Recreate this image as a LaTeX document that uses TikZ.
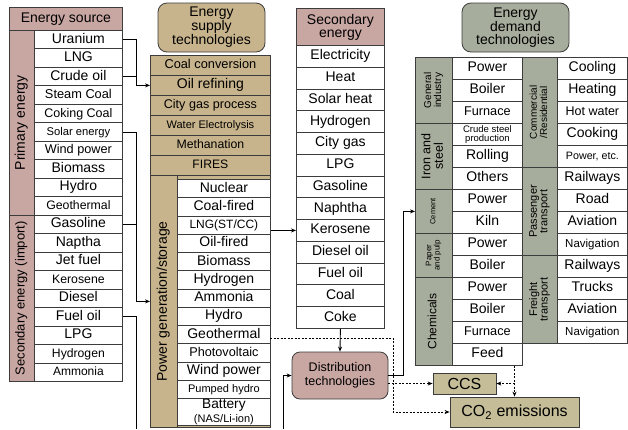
\documentclass[tikz,border=0pt]{standalone}
\usepackage{fontspec}
\setmainfont{Liberation Sans}
\usepackage{graphicx}
\usetikzlibrary{arrows.meta}

\definecolor{rosec}{HTML}{C8A6A2}
\definecolor{tanc}{HTML}{C8B48C}
\definecolor{sagec}{HTML}{A7AD9C}
\definecolor{olivec}{HTML}{C4BD97}
\definecolor{linec}{HTML}{3C3C3C}

\newcommand{\fsz}[1]{\fontsize{#1}{#1}\selectfont}
\newcommand{\vtext}[3]{\rotatebox{90}{\fontsize{#1}{#2}\selectfont\begin{tabular}{@{}c@{}}#3\end{tabular}}}

\tikzset{every picture/.style={line width=0.8pt}}
\tikzset{
  cellbase/.style={draw=linec, inner sep=0pt, anchor=north west, align=center},
  cell/.style={cellbase, font=\fsz{14}, text height=10pt, text depth=3pt},
  srcrow/.style={cell, fill=white, minimum width=88, minimum height=18.47},
  suprow/.style={cell, fill=tanc, minimum width=120, minimum height=20},
  pgrow/.style={cell, fill=white, minimum width=93, minimum height=18.25},
  secrow/.style={cell, fill=white, minimum width=88, minimum height=21.77},
  demrow/.style={cell, fill=white, minimum width=70, minimum height=22},
  demlab/.style={cellbase, fill=sagec, minimum width=37},
  demlabr/.style={cellbase, fill=sagec, minimum width=35},
  hdrround/.style={draw=linec, rounded corners=9pt, inner sep=0pt, align=center, minimum width=107, minimum height=49, font=\fontsize{14}{12.5}\selectfont},
  flow/.style={draw=black, line width=0.9pt},
  dashflow/.style={flow, dash pattern=on 2pt off 1.5pt},
  >={Stealth[length=5pt,width=4pt]}
}

\begin{document}
\begin{tikzpicture}[x=1pt,y=1pt,yscale=-1,xscale=1]
    \useasboundingbox (0,0) rectangle (628,429);

    % Energy source column
    \node[cell, fill=rosec, minimum width=113, minimum height=23] (srchead) at (9,7) {Energy source};
    \node[cellbase, fill=rosec, minimum width=25, minimum height=184.74] (primary) at (9,30) {\vtext{14}{14}{Primary energy}};
    \node[cellbase, fill=rosec, minimum width=25, minimum height=166.26] (secimport) at (9,214.74) {\vtext{13}{13}{Secondary energy (import)}};
    \node[srcrow] (uranium) at (34,30) {Uranium};
    \node[srcrow] (lng) at (34,48.47) {LNG};
    \node[srcrow] (crude) at (34,66.95) {Crude oil};
    \node[srcrow, font=\fsz{12.8}] (steamcoal) at (34,85.42) {Steam Coal};
    \node[srcrow, font=\fsz{12.5}] (cokingcoal) at (34,103.89) {Coking Coal};
    \node[srcrow, font=\fsz{11.2}] (solar) at (34,122.37) {Solar energy};
    \node[srcrow, font=\fsz{12.7}] (wind) at (34,140.84) {Wind power};
    \node[srcrow] (biomass) at (34,159.32) {Biomass};
    \node[srcrow] (hydro) at (34,177.79) {Hydro};
    \node[srcrow, font=\fsz{12.3}] (geothermal) at (34,196.26) {Geothermal};
    \node[srcrow] (gasoline) at (34,214.74) {Gasoline};
    \node[srcrow] (naptha) at (34,233.21) {Naptha};
    \node[srcrow] (jetfuel) at (34,251.68) {Jet fuel};
    \node[srcrow, font=\fsz{12.3}] (kerosene) at (34,270.16) {Kerosene};
    \node[srcrow] (diesel) at (34,288.63) {Diesel};
    \node[srcrow] (fueloil) at (34,307.11) {Fuel oil};
    \node[srcrow] (lpg) at (34,325.58) {LPG};
    \node[srcrow, font=\fsz{12.2}] (hydrogen) at (34,344.05) {Hydrogen};
    \node[srcrow, font=\fsz{12}] (ammonia) at (34,362.53) {Ammonia};

    % Energy supply technologies column
    \node[hdrround, fill=tanc] (suphead) at (211.5,27.5) {Energy\\supply\\technologies};
    \node[suprow, font=\fsz{12.8}] (coalconv) at (150,55) {Coal conversion};
    \node[suprow] (oilref) at (150,75) {Oil refining};
    \node[suprow, font=\fsz{12.6}] (citygasproc) at (150,95) {City gas process};
    \node[suprow, font=\fsz{11}] (electrolysis) at (150,115) {Water Electrolysis};
    \node[suprow, font=\fsz{12.3}] (methanation) at (150,135) {Methanation};
    \node[suprow, font=\fsz{12.2}] (fires) at (150,155) {FIRES};
    \draw[draw=linec, fill=tanc] (150,175) rectangle (270,427);
    \node[cellbase, minimum width=27, minimum height=252] (pgen) at (150,175) {\vtext{14}{14}{Power generation/storage}};
    \node[pgrow] (nuclear) at (177,179) {Nuclear};
    \node[pgrow] (coalfired) at (177,197.25) {Coal-fired};
    \node[pgrow, font=\fsz{12}] (lngcc) at (177,215.5) {LNG(ST/CC)};
    \node[pgrow] (oilfired) at (177,233.75) {Oil-fired};
    \node[pgrow] (pgbiomass) at (177,252) {Biomass};
    \node[pgrow] (pghydrogen) at (177,270.25) {Hydrogen};
    \node[pgrow] (pgammonia) at (177,288.5) {Ammonia};
    \node[pgrow] (pghydro) at (177,306.75) {Hydro};
    \node[pgrow] (pggeo) at (177,325) {Geothermal};
    \node[pgrow, font=\fsz{12.7}] (pv) at (177,343.25) {Photovoltaic};
    \node[pgrow] (pgwind) at (177,361.5) {Wind power};
    \node[pgrow, font=\fsz{11}] (pumped) at (177,379.75) {Pumped hydro};
    \node[cellbase, fill=white, minimum width=93, minimum height=27, font=\fontsize{11}{14}\selectfont] (battery) at (177,398) {{\fontsize{13.7}{14}\selectfont Battery}\\(NAS/Li-ion)};

    % Secondary energy column
    \node[cellbase, fill=rosec, minimum width=88, minimum height=37, font=\fontsize{14}{13}\selectfont] (sechead) at (296,8) {Secondary\\energy};
    \node[secrow] (electricity) at (296,45) {Electricity};
    \node[secrow] (heat) at (296,66.77) {Heat};
    \node[secrow] (solarheat) at (296,88.54) {Solar heat};
    \node[secrow] (sechydrogen) at (296,110.31) {Hydrogen};
    \node[secrow] (citygas) at (296,132.08) {City gas};
    \node[secrow] (seclpg) at (296,153.85) {LPG};
    \node[secrow] (secgasoline) at (296,175.62) {Gasoline};
    \node[secrow] (naphtha) at (296,197.38) {Naphtha};
    \node[secrow] (seckerosene) at (296,219.15) {Kerosene};
    \node[secrow] (dieseloil) at (296,240.92) {Diesel oil};
    \node[secrow] (secfueloil) at (296,262.69) {Fuel oil};
    \node[secrow] (coal) at (296,284.46) {Coal};
    \node[secrow] (coke) at (296,306.23) {Coke};

    %Rounded Rect
    \node[draw=linec, fill=rosec, rounded corners=8pt, minimum width=96, minimum height=47, inner sep=0pt, align=center, font=\fontsize{12.5}{14}\selectfont] (dist) at (340,375.5) {Distribution\\technologies};

    % Energy demand technologies
    \node[hdrround, fill=sagec] (demhead) at (515.5,27.5) {Energy\\demand\\technologies};
    \node[demlab, minimum height=66] (general) at (415,57) {\vtext{10}{9.5}{General\\industry}};
    \node[demlab, minimum height=66] (ironsteel) at (415,123) {\vtext{12.5}{12}{Iron and\\steel}};
    \node[demlab, minimum height=44] (cement) at (415,189) {\vtext{7.5}{7.5}{Cement}};
    \node[demlab, minimum height=44] (paper) at (415,233) {\vtext{8}{8}{Paper\\and pulp}};
    \node[demlab, minimum height=88] (chemicals) at (415,277) {\vtext{12}{12}{Chemicals}};
    \node[demrow] (gipower) at (452,57) {Power};
    \node[demrow] (giboiler) at (452,79) {Boiler};
    \node[demrow, font=\fsz{12.7}] (gifurnace) at (452,101) {Furnace};
    \node[cellbase, fill=white, minimum width=70, minimum height=22, font=\fontsize{9.5}{9.5}\selectfont] (crudesteel) at (452,123) {Crude steel\\production};
    \node[demrow] (rolling) at (452,145) {Rolling};
    \node[demrow] (others) at (452,167) {Others};
    \node[demrow] (cepower) at (452,189) {Power};
    \node[demrow] (kiln) at (452,211) {Kiln};
    \node[demrow] (pppower) at (452,233) {Power};
    \node[demrow] (ppboiler) at (452,255) {Boiler};
    \node[demrow] (chpower) at (452,277) {Power};
    \node[demrow] (chboiler) at (452,299) {Boiler};
    \node[demrow, font=\fsz{12.7}] (chfurnace) at (452,321) {Furnace};
    \node[demrow] (feed) at (452,343) {Feed};

    \node[demlabr, minimum height=110] (comres) at (522,57) {\vtext{10}{10}{Commercial\\/Residential}};
    \node[demlabr, minimum height=88] (passenger) at (522,167) {\vtext{11}{10.5}{Passenger\\transport}};
    \node[demlabr, minimum height=88] (freight) at (522,255) {\vtext{11}{10.5}{Freight\\transport}};
    \node[demrow] (cooling) at (557,57) {Cooling};
    \node[demrow] (heating) at (557,79) {Heating};
    \node[demrow, font=\fsz{12.5}] (hotwater) at (557,101) {Hot water};
    \node[demrow] (cooking) at (557,123) {Cooking};
    \node[demrow, font=\fsz{10.7}] (poweretc) at (557,145) {Power, etc.};
    \node[demrow] (prail) at (557,167) {Railways};
    \node[demrow] (road) at (557,189) {Road};
    \node[demrow] (paviation) at (557,211) {Aviation};
    \node[demrow, font=\fsz{11.5}] (pnavigation) at (557,233) {Navigation};
    \node[demrow] (frail) at (557,255) {Railways};
    \node[demrow] (trucks) at (557,277) {Trucks};
    \node[demrow] (faviation) at (557,299) {Aviation};
    \node[demrow, font=\fsz{11.5}] (fnavigation) at (557,321) {Navigation};

    % CCS and emissions
    \node[cellbase, anchor=center, fill=olivec, minimum width=63, minimum height=21, font=\fsz{16}] (ccs) at (464.5,383.5) {CCS};
    \node[cellbase, anchor=center, fill=olivec, minimum width=129, minimum height=30, font=\fsz{16}] (co2) at (514.5,412) {CO\textsubscript{2} emissions};

    %Straight Lines
    \coordinate (fuelend) at (136,429);
    \coordinate (distin) at (283,429);
    \coordinate (geoout) at (270,338);
    \draw[flow, ->] (uranium.east) -- ++(14,0) |- (oilref.west);
    \draw[flow] (crude.east) -- ++(14,0);
    \draw[flow, ->] (solar.east) -- ++(14,0) |- (pgen.west);
    \draw[flow] (gasoline.east) -- ++(14,0);
    \draw[flow] (fueloil.east) -| (fuelend);
    \draw[flow, ->] (lngcc.east |- seckerosene.west) -- (seckerosene.west);
    \draw[flow, ->] (coke.south) -- (dist.north);
    \draw[flow, ->] (distin) |- (dist.west);
    \draw[flow, ->] (dist.east) -- ++(15,0) |- (cement.west);
    \draw[dashflow, ->] (dist.east |- ccs.west) -- (ccs.west);
    \draw[dashflow, ->] (geoout) -- ++(123,0) |- (co2.west);
    \draw[dashflow, ->] (feed.south -| co2.north) -- (co2.north);
    \draw[dashflow, ->] (ccs.east -| co2.north) -- (ccs.east);

\end{tikzpicture}
\end{document}
